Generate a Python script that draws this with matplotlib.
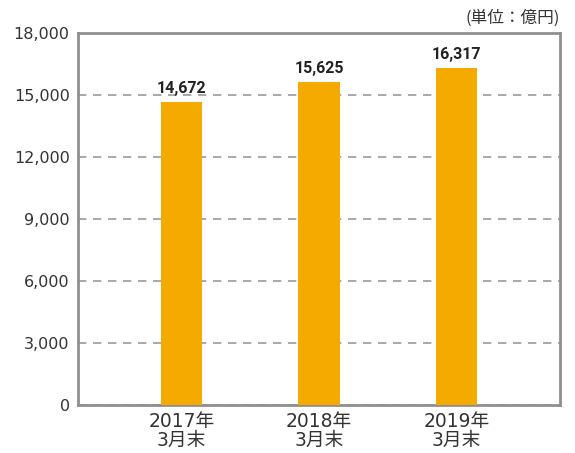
import matplotlib
matplotlib.use("Agg")
import matplotlib.pyplot as plt

plt.rcParams['font.family'] = ['DejaVu Sans', 'Noto Sans CJK JP']

categories = ["2017年\n3月末", "2018年\n3月末", "2019年\n3月末"]
values = [14672, 15625, 16317]
yticks = [0, 3000, 6000, 9000, 12000, 15000, 18000]

fig = plt.figure(figsize=(5.75, 4.53), dpi=100)
ax = fig.add_axes([78/575, 1-405/453, 482/575, 372/453])

x = range(len(categories))
ax.bar(x, values, width=0.3, color="#F5AA00", zorder=3)
for xi, v in zip(x, values):
    ax.text(xi, v + 430, f"{v:,}", ha="center", va="baseline", fontsize=11.5,
            fontweight="bold", color="#222222", family=["Roboto"])

ax.set_xlim(-0.75, 2.75)
ax.set_ylim(0, 18000)
ax.set_yticks(yticks)
ax.set_yticklabels([f"{t:,}" for t in yticks], fontsize=11.5, color="#333333")
ax.set_xticks(list(x))
ax.set_xticklabels(categories, fontsize=13.5, color="#333333", linespacing=1.0)
ax.tick_params(axis="y", length=0, pad=6)
ax.tick_params(axis="x", length=0, pad=5)
ax.yaxis.grid(True, linestyle=(0, (5, 4)), color="#999999", linewidth=1.2, zorder=0)
for s in ax.spines.values():
    s.set_color("#8f8f8f")
    s.set_linewidth(2)

fig.text(560/575, 1-18/453, "(単位：億円)", ha="right", va="center", fontsize=12,
         color="#333333", family=["Noto Sans CJK JP"])

fig.savefig("out.png", dpi=100)
